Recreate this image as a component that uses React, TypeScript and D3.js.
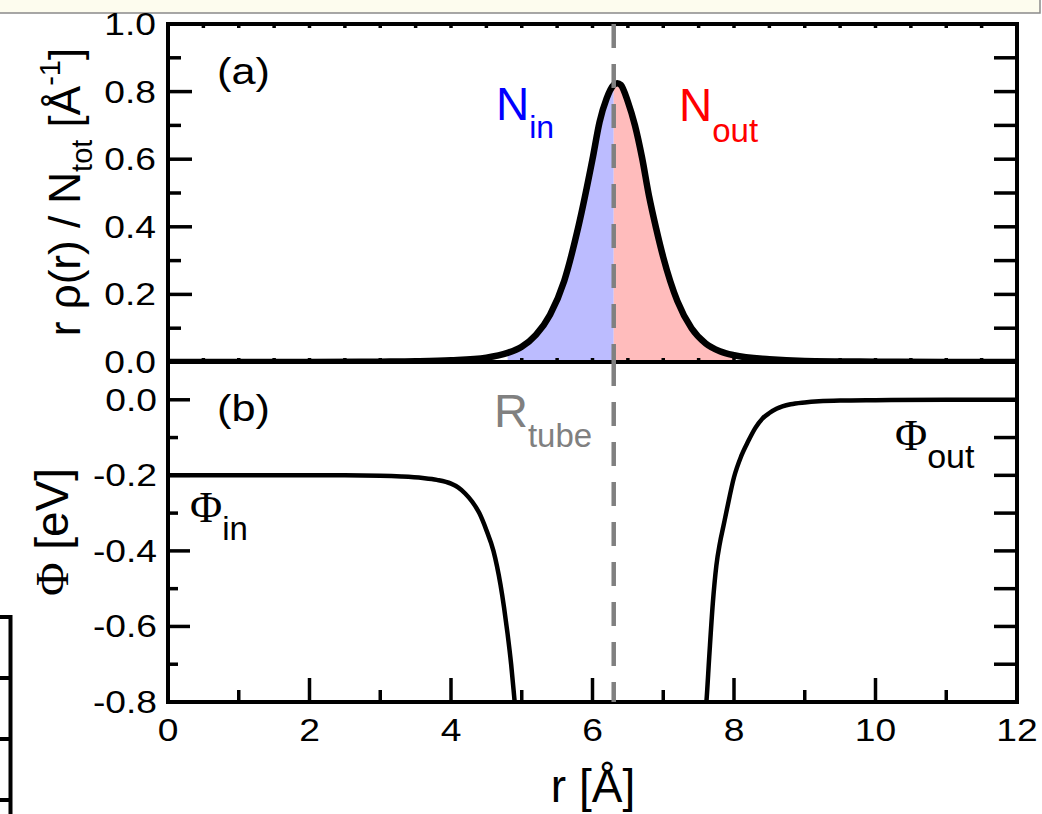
import React from 'react';
import * as d3 from 'd3';

const W = 1042;
const H = 814;

// Panel (a): r rho(r) / N_tot
const rDensity = [0, 1, 2, 3, 3.5, 4, 4.5, 4.8, 5.0, 5.2, 5.4, 5.6, 5.8, 6.0, 6.1, 6.2, 6.3, 6.35, 6.4, 6.5, 6.6, 6.7, 6.8, 6.9, 7.0, 7.2, 7.4, 7.6, 7.8, 8.0, 8.5, 9.0, 10, 11, 12];
const density = [0, 0, 0, 0.001, 0.002, 0.005, 0.013, 0.027, 0.045, 0.08, 0.14, 0.24, 0.40, 0.60, 0.71, 0.78, 0.82, 0.825, 0.82, 0.77, 0.70, 0.605, 0.49, 0.395, 0.31, 0.18, 0.10, 0.055, 0.032, 0.02, 0.008, 0.003, 0.001, 0, 0];

// Panel (b): potential inside / outside
const rPhiIn = [0, 1, 2, 2.5, 3.0, 3.3, 3.6, 3.8, 4.0, 4.1, 4.2, 4.3, 4.4, 4.5, 4.6, 4.7, 4.75, 4.8, 4.85, 4.9, 4.93];
const phiIn = [-0.2, -0.2, -0.2, -0.2, -0.201, -0.203, -0.207, -0.212, -0.222, -0.232, -0.248, -0.27, -0.30, -0.345, -0.40, -0.49, -0.55, -0.62, -0.70, -0.80, -0.86];
const rPhiOut = [7.58, 7.61, 7.65, 7.7, 7.75, 7.8, 7.85, 7.9, 8.0, 8.1, 8.2, 8.3, 8.4, 8.5, 8.6, 8.8, 9.0, 9.2, 9.5, 10, 11, 12];
const phiOut = [-0.86, -0.80, -0.68, -0.54, -0.44, -0.38, -0.335, -0.29, -0.205, -0.15, -0.11, -0.075, -0.05, -0.035, -0.024, -0.012, -0.007, -0.004, -0.002, -0.001, 0, 0];

const R_TUBE = 6.3;
const FILL_START = 4.8;
const FILL_END = 8.0;

const xTicksMajor = [0, 2, 4, 6, 8, 10, 12];
const xTickLabels = ['0', '2', '4', '6', '8', '10', '12'];
const yTicksA = [0, 0.2, 0.4, 0.6, 0.8, 1.0];
const yTickLabelsA = ['0.0', '0.2', '0.4', '0.6', '0.8', '1.0'];
const yTicksB = [0, -0.2, -0.4, -0.6, -0.8];
const yTickLabelsB = ['0.0', '-0.2', '-0.4', '-0.6', '-0.8'];

const SANS = "'Liberation Sans', Arial, Helvetica, sans-serif";
const SERIF = "'Liberation Serif', 'DejaVu Serif', serif";

type Pt = [number, number];
const zip = (a: number[], b: number[]): Pt[] => a.map((v, i) => [v, b[i]]);

export default function App() {
  const x = d3.scaleLinear().domain([0, 12]).range([168, 1017]);
  const yA = d3.scaleLinear().domain([0, 1]).range([362, 24]);
  const yB = d3.scaleLinear().domain([-0.8, 0.1]).range([702, 362]);

  const dens = zip(rDensity, density);
  const lineA = d3.line<Pt>().x(d => x(d[0])).y(d => yA(d[1])).curve(d3.curveMonotoneX);
  const areaA = d3.area<Pt>().x(d => x(d[0])).y0(yA(0)).y1(d => yA(d[1])).curve(d3.curveMonotoneX);
  const inPts = dens.filter(d => d[0] >= FILL_START && d[0] <= R_TUBE);
  const outPts = dens.filter(d => d[0] >= R_TUBE && d[0] <= FILL_END);

  const lineB = d3.line<Pt>().x(d => x(d[0])).y(d => yB(d[1])).curve(d3.curveMonotoneX);

  const [xL, xR] = x.range();
  const topA = yA(1), botA = yA(0);
  const topB = yB(0.1), botB = yB(-0.8);

  const minorA = d3.range(0.1, 1.0, 0.2);
  const allA = d3.range(0.1, 1.0, 0.1);
  const minorB = [-0.1, -0.3, -0.5, -0.7];
  const allB = [0, -0.1, -0.2, -0.3, -0.4, -0.5, -0.6, -0.7];
  const xMinor = [1, 3, 5, 7, 9, 11];
  const xHalf = d3.range(0.5, 12, 0.5);

  const tickStroke = { stroke: '#000', strokeWidth: 3.5 };

  return (
    <div style={{ position: 'absolute', left: 0, top: 0 }}>
      <svg width={W} height={H} style={{ display: 'block', background: '#fff' }}>
        <defs>
          <clipPath id="clipA"><rect x={xL} y={topA - 10} width={xR - xL} height={botA - topA + 10} /></clipPath>
          <clipPath id="clipB"><rect x={xL} y={topB} width={xR - xL} height={botB - topB} /></clipPath>
        </defs>

        {/* top strip */}
        <rect x={-2} y={-2} width={1042} height={15} fill="#fdfcee" stroke="#8a8a8a" strokeWidth={1.5} />

        {/* left partial frame */}
        <g stroke="#000" strokeWidth={4}>
          <line x1={10.5} y1={615} x2={10.5} y2={H} />
          {[617, 678, 739, 800].map(v => <line key={v} x1={0} y1={v} x2={12} y2={v} />)}
        </g>

        {/* panel (a) fills */}
        <path d={areaA(inPts) || ''} fill="#bcbcff" stroke="none" />
        <path d={areaA(outPts) || ''} fill="#ffbcbc" stroke="none" />

        {/* panel (a) ticks */}
        <g style={tickStroke as any}>
          {yTicksA.map(v => <line key={'la' + v} x1={xL} x2={xL + 24} y1={yA(v)} y2={yA(v)} />)}
          {minorA.map(v => <line key={'lam' + v} x1={xL} x2={xL + 13} y1={yA(v)} y2={yA(v)} />)}
          {allA.map(v => <line key={'ra' + v} x1={xR} x2={xR - 23} y1={yA(v)} y2={yA(v)} />)}
          {xHalf.map(v => <line key={'ta' + v} x1={x(v)} x2={x(v)} y1={topA} y2={topA + 4} />)}
          {xHalf.map(v => <line key={'ba' + v} x1={x(v)} x2={x(v)} y1={botA} y2={botA - 4} />)}
        </g>

        {/* panel (a) curve */}
        <path d={lineA(dens) || ''} fill="none" stroke="#000" strokeWidth={6.5} strokeLinejoin="round" clipPath="url(#clipA)" />

        {/* panel (b) ticks */}
        <g style={tickStroke as any}>
          {yTicksB.map(v => <line key={'lb' + v} x1={xL} x2={xL + 22} y1={yB(v)} y2={yB(v)} />)}
          {minorB.map(v => <line key={'lbm' + v} x1={xL} x2={xL + 10} y1={yB(v)} y2={yB(v)} />)}
          {allB.map(v => <line key={'rb' + v} x1={xR} x2={xR - 23} y1={yB(v)} y2={yB(v)} />)}
          {xTicksMajor.map(v => <line key={'bb' + v} x1={x(v)} x2={x(v)} y1={botB} y2={botB - 24} />)}
          {xMinor.map(v => <line key={'bbm' + v} x1={x(v)} x2={x(v)} y1={botB} y2={botB - 12} />)}
        </g>

        {/* panel (b) curves */}
        <g clipPath="url(#clipB)">
          <path d={lineB(zip(rPhiIn, phiIn)) || ''} fill="none" stroke="#000" strokeWidth={4.5} />
          <path d={lineB(zip(rPhiOut, phiOut)) || ''} fill="none" stroke="#000" strokeWidth={4.5} />
        </g>

        {/* frames */}
        <rect x={xL} y={topA} width={xR - xL} height={botA - topA} fill="none" stroke="#000" strokeWidth={4} />
        <rect x={xL} y={topB} width={xR - xL} height={botB - topB} fill="none" stroke="#000" strokeWidth={4} />

        {/* R_tube dashed lines */}
        <line x1={x(R_TUBE)} x2={x(R_TUBE)} y1={topA} y2={botA} stroke="#808080" strokeWidth={4.5} strokeDasharray="24 16" />
        <line x1={x(R_TUBE)} x2={x(R_TUBE)} y1={topB} y2={botB} stroke="#808080" strokeWidth={4.5} strokeDasharray="24 16" />

        {/* tick labels */}
        <g fontFamily={SANS} fontSize={31} fill="#000">
          {yTicksA.map((v, i) => (
            <text key={'tla' + v} transform={`translate(156,${yA(v) + 11}) scale(1.2,1)`} textAnchor="end">{yTickLabelsA[i]}</text>
          ))}
          {yTicksB.map((v, i) => (
            <text key={'tlb' + v} transform={`translate(157,${yB(v) + 11}) scale(1.2,1)`} textAnchor="end">{yTickLabelsB[i]}</text>
          ))}
          {xTicksMajor.map((v, i) => (
            <text key={'tlx' + v} transform={`translate(${x(v)},741) scale(1.2,1)`} textAnchor="middle">{xTickLabels[i]}</text>
          ))}
        </g>

        {/* axis titles */}
        <text transform="translate(80,192) rotate(-90)" textAnchor="middle" fontFamily={SANS} fontSize={44} fill="#000">
          r ρ(r) / N<tspan fontSize={29} dy={12}>tot</tspan><tspan dy={-12}> [Å</tspan><tspan fontSize={29} dy={-20}>-1</tspan><tspan dy={20}>]</tspan>
        </text>
        <text transform="translate(68,532) rotate(-90)" textAnchor="middle" fontSize={46} fill="#000">
          <tspan fontFamily={SERIF}>Φ</tspan><tspan fontFamily={SANS}> [eV]</tspan>
        </text>
        <text x={593} y={802} textAnchor="middle" fontFamily={SANS} fontSize={46} fill="#000">r [Å]</text>

        {/* panel labels */}
        <text transform="translate(217,84) scale(1.17,1)" fontFamily={SANS} fontSize={37} fill="#000">(a)</text>
        <text transform="translate(217,421) scale(1.17,1)" fontFamily={SANS} fontSize={37} fill="#000">(b)</text>

        {/* annotations */}
        <text x={496} y={120} fontFamily={SANS} fontSize={46} fill="#0000ff">N<tspan fontSize={32} dy={18}>in</tspan></text>
        <text x={679} y={121} fontFamily={SANS} fontSize={46} fill="#ff0000">N<tspan fontSize={33} dy={21}>out</tspan></text>
        <text x={494} y={427} fontFamily={SANS} fontSize={47} fill="#808080">R<tspan fontSize={33} dy={20}>tube</tspan></text>
        <text x={895} y={450} fontFamily={SERIF} fontSize={44} fill="#000">Φ<tspan fontFamily={SANS} fontSize={34} dy={18}>out</tspan></text>
        <text x={190} y={522} fontFamily={SERIF} fontSize={44} fill="#000">Φ<tspan fontFamily={SANS} fontSize={33} dy={18}>in</tspan></text>
      </svg>
    </div>
  );
}
